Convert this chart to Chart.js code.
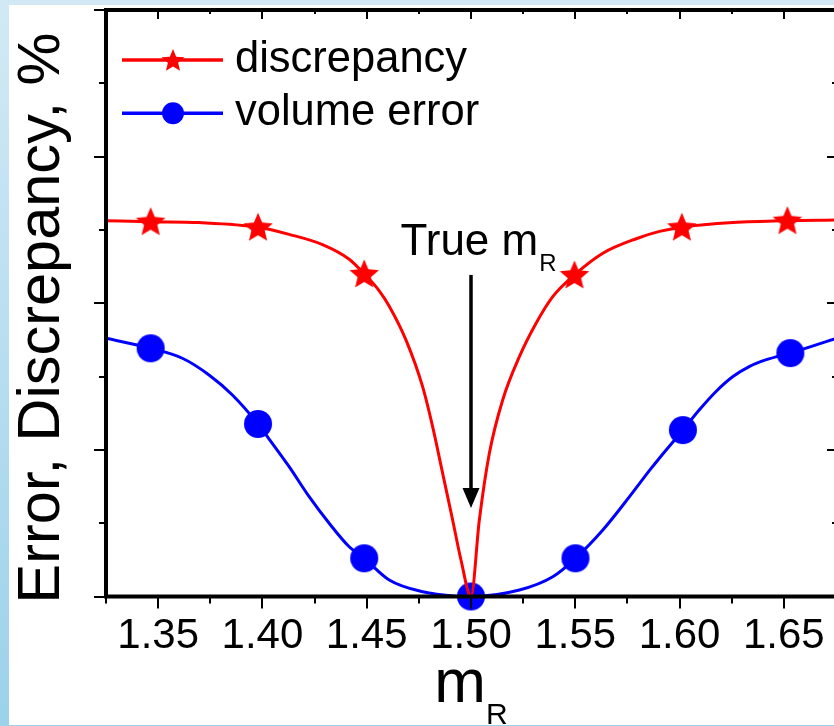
<!DOCTYPE html>
<html>
<head>
<meta charset="utf-8">
<script src="https://cdn.jsdelivr.net/npm/chart.js@4.4.0/dist/chart.umd.min.js"></script>
<style>
  html, body { margin: 0; padding: 0; width: 834px; height: 726px; overflow: hidden; background: linear-gradient(#d2e9f5, #9cd2eb); }
  #sheet { position: absolute; left: 9px; top: 5px; width: 830px; height: 720px; background: #fff; }
  #lineChart { position: absolute; left: 0; top: 0; }
</style>
</head>
<body>
<div id="sheet"></div>
<canvas id="lineChart" width="840" height="726"></canvas>
<script>
// values (y axis has no labels, arbitrary 0..8 units)
const discCurveX = [1.325, 1.3464, 1.3696, 1.3979, 1.4128, 1.4288, 1.4416, 1.4488, 1.456, 1.4608, 1.4688, 1.4768, 1.4816, 1.4864, 1.4912, 1.4952, 1.5,
  1.504, 1.5088, 1.5152, 1.5232, 1.5312, 1.5392, 1.5496, 1.5632, 1.5792, 1.5904, 1.6011, 1.6256, 1.6517, 1.675];
const discCurveY = [5.127, 5.113, 5.1, 5.037, 4.94, 4.8, 4.6, 4.4, 4.17, 3.96, 3.5, 2.862, 2.317, 1.681, 1.044, 0.498, 0,
  1.044, 1.954, 2.681, 3.271, 3.727, 4.09, 4.386, 4.682, 4.88, 4.98, 5.037, 5.1, 5.127, 5.136];

const volCurveX = [1.325, 1.3464, 1.3616, 1.3744, 1.3856, 1.3979, 1.4047, 1.4128, 1.4224, 1.432, 1.4416, 1.4488, 1.4608, 1.4768, 1.4928, 1.5,
  1.5232, 1.5392, 1.5501, 1.5632, 1.576, 1.5856, 1.5904, 1.6016, 1.6096, 1.6176, 1.6256, 1.6336, 1.6416, 1.6531, 1.675];
const volCurveY = [3.523, 3.386, 3.25, 3.022, 2.749, 2.353, 2.09, 1.771, 1.362, 0.999, 0.679, 0.521, 0.225, 0.065, 0.005, 0,
  0.089, 0.27, 0.521, 0.907, 1.362, 1.72, 1.89, 2.27, 2.55, 2.8, 3.0, 3.14, 3.23, 3.32, 3.52];

const discX = [1.3464, 1.3979, 1.4488, 1.5496, 1.6011, 1.6517];
const discY = [5.113, 5.037, 4.4, 4.386, 5.037, 5.127];

const volX = [1.3464, 1.3979, 1.4488, 1.5, 1.5501, 1.6016, 1.6531];
const volY = [3.386, 2.353, 0.521, 0, 0.521, 2.27, 3.32];

const xTickLabels = [1.35, 1.40, 1.45, 1.50, 1.55, 1.60, 1.65];
const xMinorTicks = [1.325, 1.375, 1.425, 1.475, 1.525, 1.575, 1.625, 1.675];
const yMajorTicks = [0, 2, 4, 6, 8];
const yMinorTicks = [1, 3, 5, 7];

const FONT = "'Liberation Sans', Arial, sans-serif";
const RED = "#ff0000";
const BLUE = "#0000ff";

function toPoints(xs, ys) {
  return xs.map((v, i) => ({ x: v, y: ys[i] }));
}

function starPath(c, cx, cy, rOut, rIn) {
  c.beginPath();
  for (let i = 0; i < 10; i++) {
    const r = i % 2 ? rIn : rOut;
    const ang = -Math.PI / 2 + i * Math.PI / 5;
    c.lineTo(cx + r * Math.cos(ang), cy + r * Math.sin(ang));
  }
  c.closePath();
}

// marker images (drawn at own size, keeps chart.js from padding the layout)
const starImg = document.createElement("canvas");
starImg.width = 34;
starImg.height = 34;
(function () {
  const c = starImg.getContext("2d");
  c.fillStyle = RED;
  starPath(c, 17, 18, 15.5, 7);
  c.fill();
})();

const dotImg = document.createElement("canvas");
dotImg.width = 30;
dotImg.height = 30;
(function () {
  const c = dotImg.getContext("2d");
  c.fillStyle = BLUE;
  c.beginPath();
  c.arc(15, 15, 14, 0, Math.PI * 2);
  c.fill();
})();

//! axes frame, ticks, legend and notes
const frameAndNotes = {
  id: "frameAndNotes",
  afterDatasetsDraw(chart) {
    const { ctx, chartArea: a, scales: { x, y } } = chart;
    ctx.save();
    ctx.strokeStyle = "#000";
    ctx.fillStyle = "#000";
    ctx.lineWidth = 2;

    const xTick = (v, lb, lt) => {
      const px = Math.round(x.getPixelForValue(v));
      ctx.beginPath();
      ctx.moveTo(px, a.bottom); ctx.lineTo(px, a.bottom + lb);
      ctx.moveTo(px, a.top); ctx.lineTo(px, a.top + lt);
      ctx.stroke();
    };
    xTickLabels.forEach((v) => xTick(v, 12, 9));
    xMinorTicks.forEach((v) => xTick(v, 7, 4));

    const yTick = (v, ll, lr) => {
      const py = Math.round(y.getPixelForValue(v));
      ctx.beginPath();
      ctx.moveTo(a.left, py); ctx.lineTo(a.left - ll, py);
      ctx.moveTo(a.right, py); ctx.lineTo(a.right - lr, py);
      ctx.stroke();
    };
    yMajorTicks.forEach((v) => yTick(v, 12, 9));
    yMinorTicks.forEach((v) => yTick(v, 7, 4));

    ctx.lineWidth = 4;
    ctx.strokeRect(a.left, a.top, a.right - a.left, a.bottom - a.top);

    // legend
    const items = chart.data.datasets.filter((d) => d.legend);
    items.forEach((d, i) => {
      const ly = 60 + i * 53.3;
      ctx.strokeStyle = d.borderColor;
      ctx.lineWidth = 3.5;
      ctx.beginPath();
      ctx.moveTo(122, ly); ctx.lineTo(223, ly);
      ctx.stroke();
      ctx.fillStyle = d.backgroundColor;
      if (d.legend === "star") {
        starPath(ctx, 173, ly + 1, 12, 5.4);
        ctx.fill();
      } else {
        ctx.beginPath();
        ctx.arc(173, ly, 11, 0, Math.PI * 2);
        ctx.fill();
      }
      ctx.fillStyle = "#000";
      ctx.font = "43.5px " + FONT;
      ctx.textBaseline = "middle";
      ctx.textAlign = "left";
      ctx.fillText(d.label, 235, ly);
    });

    // y axis title
    ctx.save();
    ctx.translate(59, a.bottom + 7);
    ctx.rotate(-Math.PI / 2);
    ctx.font = "59.5px " + FONT;
    ctx.textBaseline = "alphabetic";
    ctx.textAlign = "left";
    ctx.fillText("Error, Discrepancy, %", 0, 0);
    ctx.restore();

    // "True mR" arrow
    const ax = x.getPixelForValue(1.5);
    const yTop = y.getPixelForValue(4.386);
    const yTip = y.getPixelForValue(1.207);
    ctx.strokeStyle = "#000";
    ctx.lineWidth = 3.5;
    ctx.beginPath();
    ctx.moveTo(ax, yTop); ctx.lineTo(ax, yTip - 16);
    ctx.stroke();
    ctx.beginPath();
    ctx.moveTo(ax - 8.5, yTip - 20);
    ctx.lineTo(ax + 8.5, yTip - 20);
    ctx.lineTo(ax, yTip);
    ctx.closePath();
    ctx.fill();

    ctx.textBaseline = "alphabetic";
    ctx.font = "44px " + FONT;
    const tx = x.getPixelForValue(1.4662);
    const ty = y.getPixelForValue(4.659);
    ctx.fillText("True m", tx, ty);
    const tw = ctx.measureText("True m").width;
    ctx.font = "24px " + FONT;
    ctx.fillText("R", tx + tw + 1, ty + 16);

    // x axis title m_R
    ctx.font = "62px " + FONT;
    const mw = ctx.measureText("m").width;
    ctx.font = "30px " + FONT;
    const rw = ctx.measureText("R").width;
    const cx = (a.left + a.right) / 2 - (mw + rw) / 2;
    ctx.font = "62px " + FONT;
    ctx.fillText("m", cx, 702);
    ctx.font = "30px " + FONT;
    ctx.fillText("R", cx + mw, 724);

    ctx.restore();
  },
};

const ctx = document.getElementById("lineChart").getContext("2d");

new Chart(ctx, {
  type: "line",
  data: {
    datasets: [
      {
        label: "discrepancy",
        legend: "star",
        data: toPoints(discX, discY),
        showLine: false,
        pointStyle: starImg,
        pointRadius: 1,
        pointBorderWidth: 0,
        borderWidth: 0,
        borderColor: RED,
        backgroundColor: RED,
        clip: false,
      },
      {
        label: "discrepancy curve",
        data: toPoints(discCurveX, discCurveY),
        borderColor: RED,
        borderWidth: 3,
        pointRadius: 0,
        cubicInterpolationMode: "monotone",
      },
      {
        label: "volume error",
        legend: "circle",
        data: toPoints(volX, volY),
        showLine: false,
        pointStyle: dotImg,
        pointRadius: 1,
        pointBorderWidth: 0,
        borderWidth: 0,
        borderColor: BLUE,
        backgroundColor: BLUE,
        clip: false,
      },
      {
        label: "volume error curve",
        data: toPoints(volCurveX, volCurveY),
        borderColor: BLUE,
        borderWidth: 3,
        pointRadius: 0,
        cubicInterpolationMode: "monotone",
      },
    ],
  },
  options: {
    responsive: false,
    animation: false,
    layout: { padding: { top: 10, right: 3.7, bottom: 0, left: 0 } },
    plugins: { legend: { display: false }, tooltip: { enabled: false } },
    scales: {
      x: {
        type: "linear",
        min: 1.325,
        max: 1.675,
        afterFit: (s) => { s.height = 129.5; s.paddingLeft = 0; s.paddingRight = 0; },
        afterBuildTicks: (s) => { s.ticks = xTickLabels.map((v) => ({ value: v })); },
        grid: { display: false, drawTicks: false },
        border: { display: false },
        ticks: {
          autoSkip: false,
          maxRotation: 0,
          padding: 15,
          color: "#000",
          font: { family: FONT, size: 42 },
          callback: (v) => Number(v).toFixed(2),
        },
      },
      y: {
        min: 0,
        max: 8,
        afterFit: (s) => { s.width = 106; },
        grid: { display: false, drawTicks: false },
        border: { display: false },
        ticks: { display: false },
      },
    },
  },
  plugins: [frameAndNotes],
});
</script>
</body>
</html>
